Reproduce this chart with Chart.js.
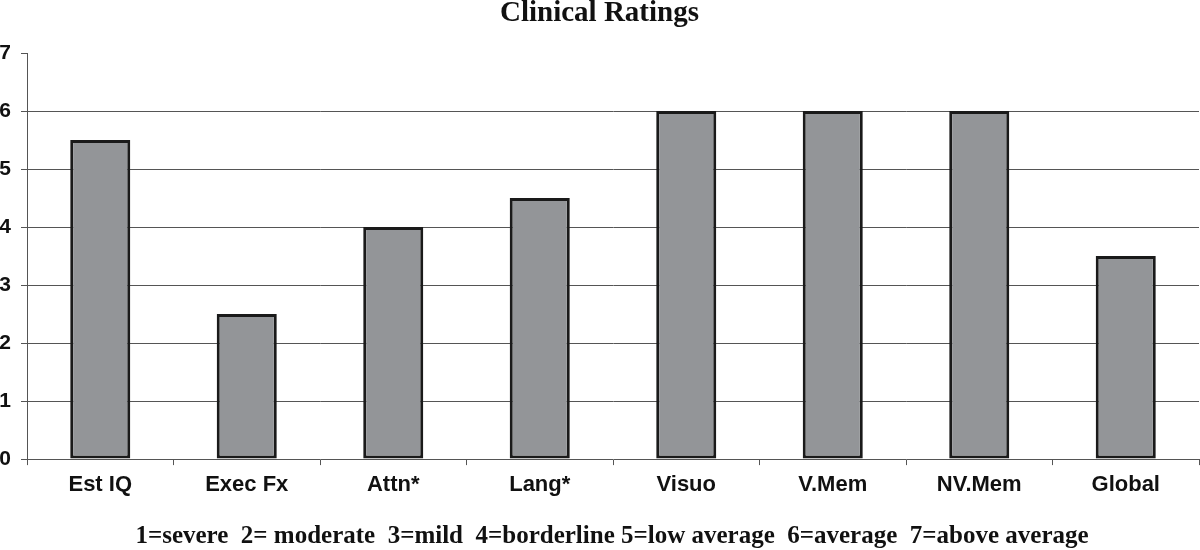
<!DOCTYPE html>
<html>
<head>
<meta charset="utf-8">
<script src="https://cdn.jsdelivr.net/npm/chart.js@4"></script>
<style>
  html, body { margin: 0; padding: 0; background: #fff; }
  #wrap { width: 1200px; height: 550px; }
</style>
</head>
<body>
<div id="wrap"><canvas id="ratingsChart"></canvas></div>
<script>
// categories and ratings
const categories = ['Est IQ', 'Exec Fx', 'Attn*', 'Lang*', 'Visuo', 'V.Mem', 'NV.Mem', 'Global'];
const ratings = [5.5, 2.5, 4, 4.5, 6, 6, 6, 3.5];
const yTicks = [0, 1, 2, 3, 4, 5, 6, 7];
// leading spaces nudge the note right, like in the original figure
const scaleNote = '    1=severe  2= moderate  3=mild  4=borderline 5=low average  6=average  7=above average';

const ctx = document.getElementById('ratingsChart').getContext('2d');

new Chart(ctx, {
    type: 'bar',
    data: {
        labels: categories,
        datasets: [{
            label: 'Clinical Ratings',
            data: ratings,
            backgroundColor: '#939598',
            borderColor: '#1a1a1a',
            borderWidth: 3,
            borderSkipped: false,
            barPercentage: 0.41,
            categoryPercentage: 1
        }]
    },
    options: {
        responsive: true,
        maintainAspectRatio: false,
        animation: false,
        layout: { padding: { left: 0, right: 1, top: 0, bottom: 0 } },
        plugins: {
            legend: { display: false },
            tooltip: { enabled: false },
            title: {
                display: true,
                text: 'Clinical Ratings',
                color: '#111',
                font: { family: '"Liberation Serif", "Times New Roman", serif', size: 29, weight: 'bold', lineHeight: 0.9 },
                padding: { top: 0, bottom: 27 }
            },
            subtitle: {
                display: true,
                position: 'bottom',
                text: scaleNote,
                color: '#111',
                font: { family: '"Liberation Serif", "Times New Roman", serif', size: 25, weight: 'bold', lineHeight: 1.1 },
                padding: { top: 17, bottom: 0 }
            }
        },
        scales: {
            x: {
                grid: { drawOnChartArea: false, color: '#555', tickLength: 6, offset: true },
                border: { color: '#555', width: 1 },
                ticks: {
                    color: '#111',
                    padding: 7,
                    font: { family: '"Liberation Sans", Arial, sans-serif', size: 22, weight: 'bold' }
                }
            },
            y: {
                min: 0,
                max: 7,
                afterFit: function(scale) { scale.width = 27; },
                afterBuildTicks: function(scale) {
                    scale.ticks = yTicks.map(v => ({ value: v }));
                },
                grid: {
                    color: c => (c.tick && (c.tick.value === 7 || c.tick.value === 0)) ? 'rgba(0,0,0,0)' : '#555',
                    tickColor: '#555',
                    tickLength: 6
                },
                border: { color: '#555', width: 1 },
                ticks: {
                    color: '#111',
                    padding: 10,
                    font: { family: '"Liberation Sans", Arial, sans-serif', size: 21, weight: 'bold' }
                }
            }
        }
    }
});
</script>
</body>
</html>
